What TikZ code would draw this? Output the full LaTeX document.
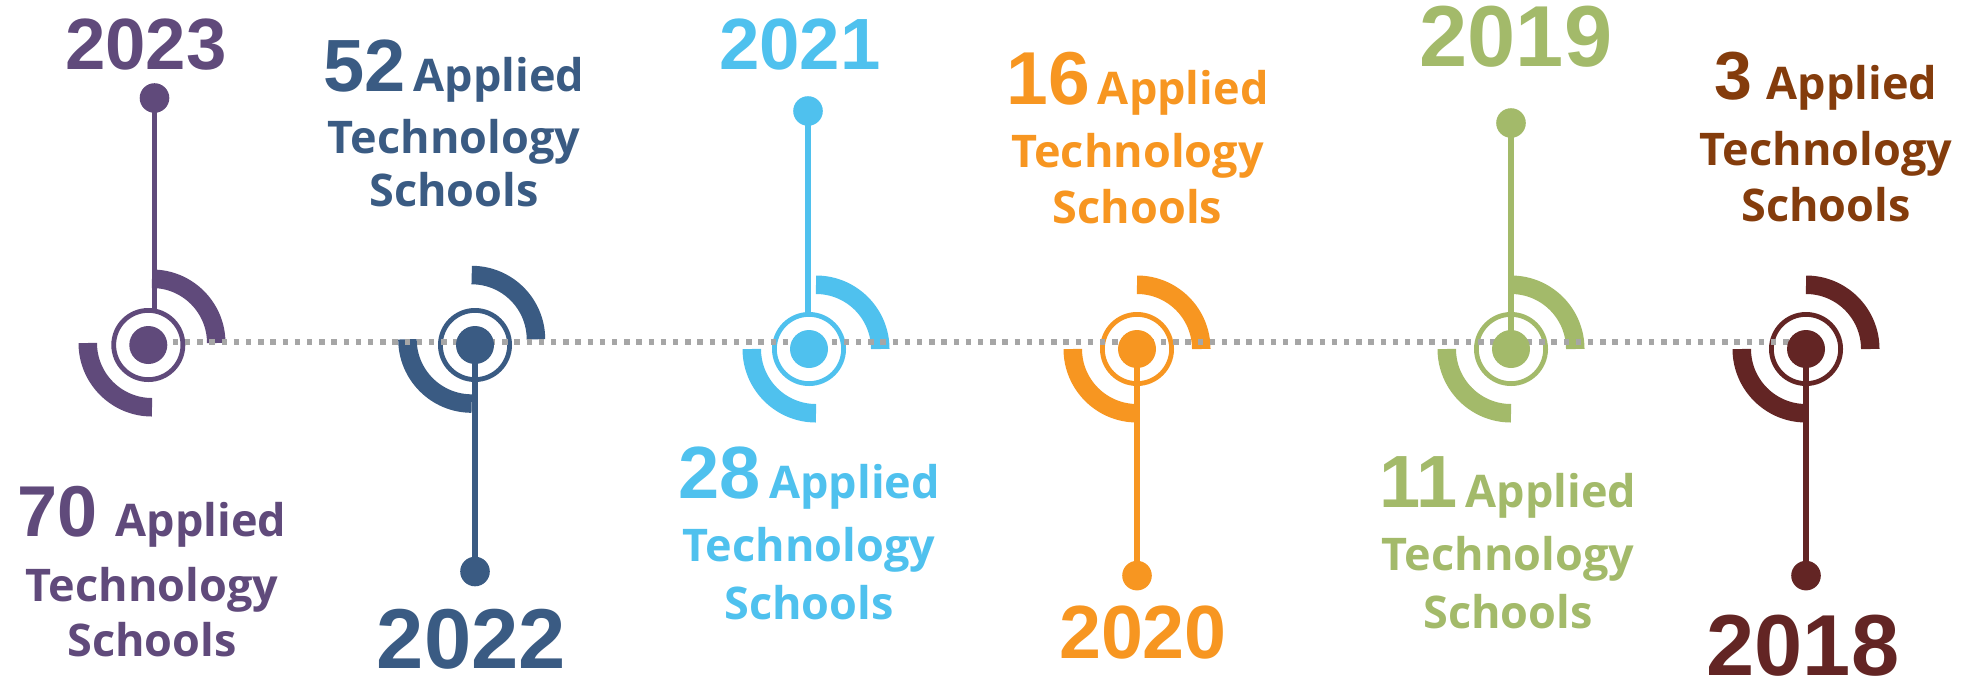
\documentclass[tikz,border=0pt]{standalone}
\usepackage{fontspec}
\setmainfont{Liberation Sans}
\newfontfamily\labfont{Open Sans}
\definecolor{cPur}{RGB}{96,74,123}
\definecolor{cBlu}{RGB}{58,91,131}
\definecolor{cSky}{RGB}{79,193,238}
\definecolor{cOra}{RGB}{247,150,33}
\definecolor{cGrn}{RGB}{163,186,106}
\definecolor{cRed}{RGB}{99,37,36}
\definecolor{cBrn}{RGB}{132,60,12}
\definecolor{cGry}{RGB}{166,166,166}
\begin{document}
\begin{tikzpicture}[x=0.5pt,y=-0.5pt,
  band/.style={line width=9.25pt},
  ringl/.style={line width=2.4pt},
  stemline/.style={line width=2.75pt},
  tl/.style={draw=cGry,line width=2.65pt,dash pattern=on 2.7pt off 3.4pt},
  yr/.style={anchor=base,inner sep=0pt},
  lab/.style={anchor=base,inner sep=0pt,font=\labfont\bfseries\fontsize{22.5pt}{22.5pt}\selectfont},
]
\useasboundingbox (0,0) rectangle (1980,681);
% centres
\coordinate (c1) at (148.3,345);  \coordinate (a1) at (152,343);
\coordinate (c2) at (475,345);    \coordinate (a2) at (471.7,339.3);
\coordinate (c3) at (809,349);    \coordinate (a3) at (816,349);
\coordinate (c4) at (1137,349);   \coordinate (a4) at (1137,349);
\coordinate (c5) at (1511,349);   \coordinate (a5) at (1511,349);
\coordinate (c6) at (1806,349);   \coordinate (a6) at (1806,349);
% stem ends
\coordinate (t1) at (154.5,98);   \coordinate (e1) at (154.5,310);
\coordinate (b2) at (475,571.5);
\coordinate (t3) at (808,111);    \coordinate (e3) at (808,316);
\coordinate (b4) at (1137,575.6);
\coordinate (t5) at (1511,123);
\coordinate (b6) at (1806,575.6);
\coordinate (L0) at (148.3,342);  \coordinate (L1) at (1806,342);

% arcs
\foreach \a/\c in {a1/cPur,a2/cBlu,a3/cSky,a4/cOra,a5/cGrn,a6/cRed}{
  \draw[\c,band] (\a) ++(64.25,0) arc[start angle=0,end angle=-90,radius=64.25];
  \draw[\c,band] (\a) ++(-64.25,0) arc[start angle=180,end angle=90,radius=64.25];
}
% rings
\foreach \n/\c in {c1/cPur,c2/cBlu,c3/cSky,c4/cOra,c5/cGrn,c6/cRed}{
  \draw[\c,ringl] (\n) circle[radius=34.6];
}
% stems
\draw[cPur,stemline] (t1) -- (e1);
\draw[cBlu,stemline] (c2) -- (b2);
\draw[cSky,stemline] (t3) -- (e3);
\draw[cOra,stemline] (c4) -- (b4);
\draw[cGrn,stemline] (t5) -- (c5);
\draw[cRed,stemline] (c6) -- (b6);
% timeline
\draw[tl] (L0) -- (L1);
% dots
\foreach \n/\c in {c1/cPur,c2/cBlu,c3/cSky,c4/cOra,c5/cGrn,c6/cRed}{
  \fill[\c] (\n) circle[radius=19];
}
\fill[cPur] (t1) circle[radius=14.8];
\fill[cBlu] (b2) circle[radius=14.8];
\fill[cSky] (t3) circle[radius=14.8];
\fill[cOra] (b4) circle[radius=14.8];
\fill[cGrn] (t5) circle[radius=14.8];
\fill[cRed] (b6) circle[radius=14.8];

% years
\node[yr,cPur,font=\bfseries\fontsize{36.3pt}{36pt}\selectfont] (y1) at (146,69.5) {2023};
\node[yr,cBlu,font=\bfseries\fontsize{42.5pt}{42pt}\selectfont] (y2) at (471.5,668.5) {2022};
\node[yr,cSky,font=\bfseries\fontsize{36.3pt}{36pt}\selectfont] (y3) at (800,69.5) {2021};
\node[yr,cOra,font=\bfseries\fontsize{37.7pt}{37pt}\selectfont] (y4) at (1143,658) {2020};
\node[yr,cGrn,font=\bfseries\fontsize{43.3pt}{43pt}\selectfont] (y5) at (1516,66.5) {2019};
\node[yr,cRed,font=\bfseries\fontsize{43.3pt}{43pt}\selectfont] (y6) at (1803,675) {2018};

% labels
\node[lab,cPur] (l1a) at (152,536.7) {{\rmfamily\bfseries\fontsize{36pt}{36pt}\selectfont 70}\hspace{9pt}Applied};
\node[lab,cPur] (l1b) at (152,601.7) {Technology};
\node[lab,cPur] (l1c) at (152,656) {Schools};

\node[lab,cBlu] (l2a) at (454,91.5) {{\rmfamily\bfseries\fontsize{37pt}{37pt}\selectfont 52}\hspace{4pt}Applied};
\node[lab,cBlu] (l2b) at (454,153.3) {Technology};
\node[lab,cBlu] (l2c) at (454,206.5) {Schools};

\node[lab,cSky] (l3a) at (809,498) {{\rmfamily\bfseries\fontsize{37pt}{37pt}\selectfont 28}\hspace{4.5pt}Applied};
\node[lab,cSky] (l3b) at (809,561) {Technology};
\node[lab,cSky] (l3c) at (809,619) {Schools};

\node[lab,cOra] (l4a) at (1137.5,104) {{\rmfamily\bfseries\fontsize{37.5pt}{37pt}\selectfont 16}\hspace{4pt}Applied};
\node[lab,cOra] (l4b) at (1137.5,167) {Technology};
\node[lab,cOra] (l4c) at (1137.5,223.5) {Schools};

\node[lab,cGrn] (l5a) at (1508,507) {{\rmfamily\bfseries\fontsize{37pt}{37pt}\selectfont 11}\hspace{4pt}Applied};
\node[lab,cGrn] (l5b) at (1508,570) {Technology};
\node[lab,cGrn] (l5c) at (1508,628) {Schools};

\node[lab,cBrn] (l6a) at (1826,99) {{\rmfamily\bfseries\fontsize{34pt}{34pt}\selectfont 3}\hspace{7pt}Applied};
\node[lab,cBrn] (l6b) at (1826,165) {Technology};
\node[lab,cBrn] (l6c) at (1826,221.5) {Schools};
\end{tikzpicture}
\end{document}
